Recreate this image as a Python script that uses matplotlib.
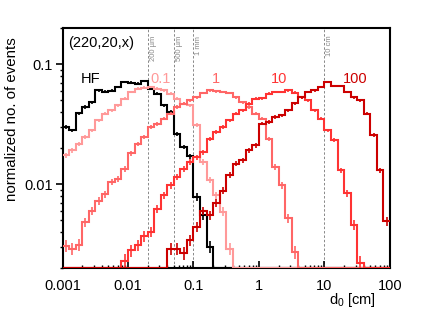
import numpy as np
import matplotlib
matplotlib.use('Agg')
import matplotlib.pyplot as plt
from matplotlib.ticker import FixedLocator, NullFormatter

plt.rcParams['font.family'] = ['Liberation Sans', 'DejaVu Sans']
plt.rcParams['mathtext.fontset'] = 'custom'
plt.rcParams['mathtext.rm'] = 'Liberation Sans'
plt.rcParams['mathtext.it'] = 'Liberation Sans:italic'

# d0 bins, 10 per decade from 0.001 cm to 100 cm
edges = np.logspace(-3, 2, 51)

# normalized fractions per bin (0 = empty bin)
hf = [0.030, 0.028, 0.039, 0.044, 0.048, 0.0605, 0.059, 0.060, 0.0645, 0.071,
      0.070, 0.0687, 0.072, 0.0624, 0.0567, 0.0454, 0.0399, 0.0263, 0.0204, 0.017,
      0.0078, 0.0055, 0.003, 0, 0, 0, 0, 0, 0, 0,
      0, 0, 0, 0, 0, 0, 0, 0, 0, 0,
      0, 0, 0, 0, 0, 0, 0, 0, 0, 0]
ct_01 = [0.0174, 0.0191, 0.0217, 0.0247, 0.028, 0.034, 0.0386, 0.0412, 0.0454, 0.0515,
         0.0586, 0.0624, 0.0637, 0.0645, 0.0624, 0.0605, 0.0567, 0.0515, 0.0468, 0.0454,
         0.031, 0.0153, 0.0108, 0.0081, 0.0059, 0.0029, 0, 0, 0, 0,
         0, 0, 0, 0, 0, 0, 0, 0, 0, 0,
         0, 0, 0, 0, 0, 0, 0, 0, 0, 0]
ct_1 = [0.00305, 0.0029, 0.00313, 0.0048, 0.0060, 0.0073, 0.0082, 0.0104, 0.0111, 0.0134,
        0.018, 0.0217, 0.0247, 0.030, 0.0319, 0.0351, 0.0386, 0.044, 0.0468, 0.050,
        0.053, 0.0574, 0.0605, 0.0593, 0.0586, 0.0574, 0.053, 0.0483, 0.044, 0.0386,
        0.0351, 0.0239, 0.0139, 0.0098, 0.0052, 0.0027, 0, 0, 0, 0,
        0, 0, 0, 0, 0, 0, 0, 0, 0, 0]
ct_10 = [0, 0, 0, 0, 0, 0, 0, 0, 0, 0.0023,
         0.0028, 0.0031, 0.0037, 0.0040, 0.0062, 0.0081, 0.0098, 0.0115, 0.0134, 0.0153,
         0.0168, 0.0185, 0.0239, 0.0272, 0.030, 0.034, 0.0386, 0.0412, 0.0468, 0.0515,
         0.052, 0.0567, 0.0586, 0.0586, 0.0605, 0.0578, 0.053, 0.050, 0.0412, 0.0351,
         0.028, 0.0232, 0.013, 0.0084, 0.0046, 0.0022, 0, 0, 0, 0]
ct_100 = [0, 0, 0, 0, 0, 0, 0, 0, 0, 0,
          0, 0, 0, 0, 0, 0, 0.0029, 0.0029, 0.00265, 0.0034,
          0.0044, 0.0060, 0.0055, 0.0070, 0.0088, 0.0119, 0.0148, 0.0158, 0.0191, 0.021,
          0.032, 0.033, 0.0362, 0.0374, 0.0412, 0.047, 0.053, 0.0586, 0.0605, 0.0645,
          0.071, 0.0655, 0.066, 0.0586, 0.053, 0.050, 0.0386, 0.0255, 0.013, 0.0049]

samples = [hf, ct_01, ct_1, ct_10, ct_100]
names = ['HF', '0.1', '1', '10', '100']
colors = ['black', '#ff9999', '#ff6666', '#ff3333', '#cc0000']
n_events = 25000

marker_lines = [0.02, 0.05, 0.1, 10]
marker_text = ['200 µm', '500 µm', '1 mm', '10 cm']

ymin, ymax = 0.002, 0.2

fig = plt.figure(figsize=(4.32, 3.16), dpi=100)
ax = fig.add_axes([0.1447, 0.1519, 0.758, 0.7595])
ax.set_xscale('log')
ax.set_yscale('log')
ax.set_xlim(1e-3, 1e2)
ax.set_ylim(ymin, ymax)

centers = np.sqrt(edges[:-1] * edges[1:])
for vals, col in zip(samples, colors):
    v = np.array(vals, dtype=float)
    ax.stairs(np.maximum(v, ymin), edges, color=col, lw=1.5, baseline=None, zorder=3)
    ok = v > 0
    err = np.sqrt(v[ok] / n_events)
    ax.errorbar(centers[ok], v[ok], yerr=err, fmt='none', ecolor=col,
                elinewidth=1.2, capsize=0, zorder=3)

for xv, t in zip(marker_lines, marker_text):
    ax.axvline(xv, color='#888888', ls=(0, (2.5, 2)), lw=0.7, zorder=1)
    ax.text(xv * 1.07, ymax * 0.86, t, rotation=90, fontsize=5.5, color='#888888',
            ha='left', va='top')

label_x = [0.00272, 0.0318, 0.219, 2.0, 29.8]
for name, col, xl in zip(names, colors, label_x):
    ax.text(xl, 0.0752, name, color=col, fontsize=10.5, ha='center', va='center')
ax.text(0.00121, 0.15, '(220,20,x)', fontsize=10.5, ha='left', va='center')

# ticks: x inward, y outward like ROOT
ax.xaxis.set_major_locator(FixedLocator([1e-3, 1e-2, 1e-1, 1, 10, 100]))
ax.set_xticklabels(['0.001', '0.01', '0.1', '1', '10', '100'])
xminor = [m * 10.0 ** e for e in range(-3, 2) for m in range(2, 10)]
ax.xaxis.set_minor_locator(FixedLocator(xminor))
ax.xaxis.set_minor_formatter(NullFormatter())
ax.yaxis.set_major_locator(FixedLocator([0.01, 0.1]))
ax.set_yticklabels(['0.01', '0.1'])
yminor = [m * 10.0 ** e for e in range(-3, 0) for m in range(2, 10)]
ax.yaxis.set_minor_locator(FixedLocator(yminor))
ax.yaxis.set_minor_formatter(NullFormatter())
ax.tick_params(axis='x', which='major', direction='in', length=5, width=1.2, pad=8, labelsize=10.5)
ax.tick_params(axis='x', which='minor', direction='in', length=2.5, width=1.0)
ax.tick_params(axis='y', which='major', direction='out', length=5, width=1.2, pad=2, labelsize=10.5)
ax.tick_params(axis='y', which='minor', direction='out', length=2.5, width=1.0)
for sp in ax.spines.values():
    sp.set_linewidth(1.5)

fig.text(12 / 432, 1 - 37 / 316, 'normalized no. of events', rotation=90,
         ha='center', va='top', fontsize=10.8)
fig.text(376 / 432, 1 - 300 / 316, r'd$_\mathrm{0}$ [cm]', ha='right', va='center', fontsize=10.5)

fig.savefig('out.png', dpi=100)
